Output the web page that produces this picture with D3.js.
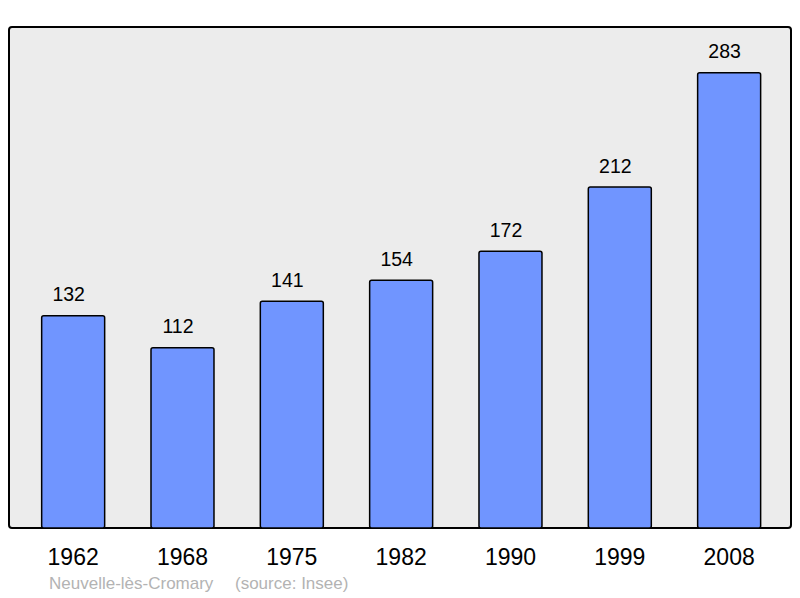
<!DOCTYPE html>
<html>
<head>
<meta charset="utf-8">
<script src="https://cdn.jsdelivr.net/npm/d3@7"></script>
<style>
  html, body { margin: 0; padding: 0; background: #ffffff; }
  svg { display: block; }
  text { font-family: "Liberation Sans", Arial, sans-serif; }
</style>
</head>
<body>
<svg id="chart" width="800" height="598"></svg>
<script>
const years = ["1962", "1968", "1975", "1982", "1990", "1999", "2008"];
const population = [132, 112, 141, 154, 172, 212, 283];
const commune = "Neuvelle-lès-Cromary";
const source = "(source: Insee)";

const svg = d3.select("#chart");
const frame = { x: 9, y: 27, w: 782, h: 501 };

svg.append("rect")
  .attr("x", frame.x).attr("y", frame.y)
  .attr("width", frame.w).attr("height", frame.h)
  .attr("rx", 3).attr("ry", 3)
  .attr("fill", "#ececec")
  .attr("stroke", "#000").attr("stroke-width", 2);

const x = d3.scaleBand()
  .domain(years)
  .range([18.5, 783.8])
  .paddingInner(0.4238)
  .paddingOuter(0.2119);

const y = d3.scaleLinear()
  .domain([0, 311.5])
  .range([frame.y + frame.h, frame.y]);

const data = years.map((yr, i) => ({ year: yr, value: population[i] }));

svg.append("g").selectAll("rect")
  .data(data)
  .join("rect")
  .attr("x", d => x(d.year))
  .attr("y", d => y(d.value))
  .attr("width", x.bandwidth())
  .attr("height", d => y(0) - y(d.value))
  .attr("rx", 2).attr("ry", 2)
  .attr("fill", "#7095ff")
  .attr("stroke", "#000")
  .attr("stroke-width", 1.5);

svg.append("g").selectAll("text")
  .data(data)
  .join("text")
  .attr("x", d => x(d.year) + x.bandwidth() / 2 - 4.5)
  .attr("y", d => y(d.value) - 14.5)
  .attr("text-anchor", "middle")
  .attr("font-size", 19.5)
  .attr("fill", "#000")
  .text(d => d.value);

svg.append("g").selectAll("text")
  .data(data)
  .join("text")
  .attr("x", d => x(d.year) + x.bandwidth() / 2)
  .attr("y", 565)
  .attr("text-anchor", "middle")
  .attr("font-size", 23)
  .attr("fill", "#000")
  .text(d => d.year);

svg.append("text")
  .attr("x", 49).attr("y", 589)
  .attr("font-size", 17)
  .attr("fill", "#b3b3b3")
  .text(commune);

svg.append("text")
  .attr("x", 235).attr("y", 589)
  .attr("font-size", 17)
  .attr("fill", "#b3b3b3")
  .text(source);
</script>
</body>
</html>
